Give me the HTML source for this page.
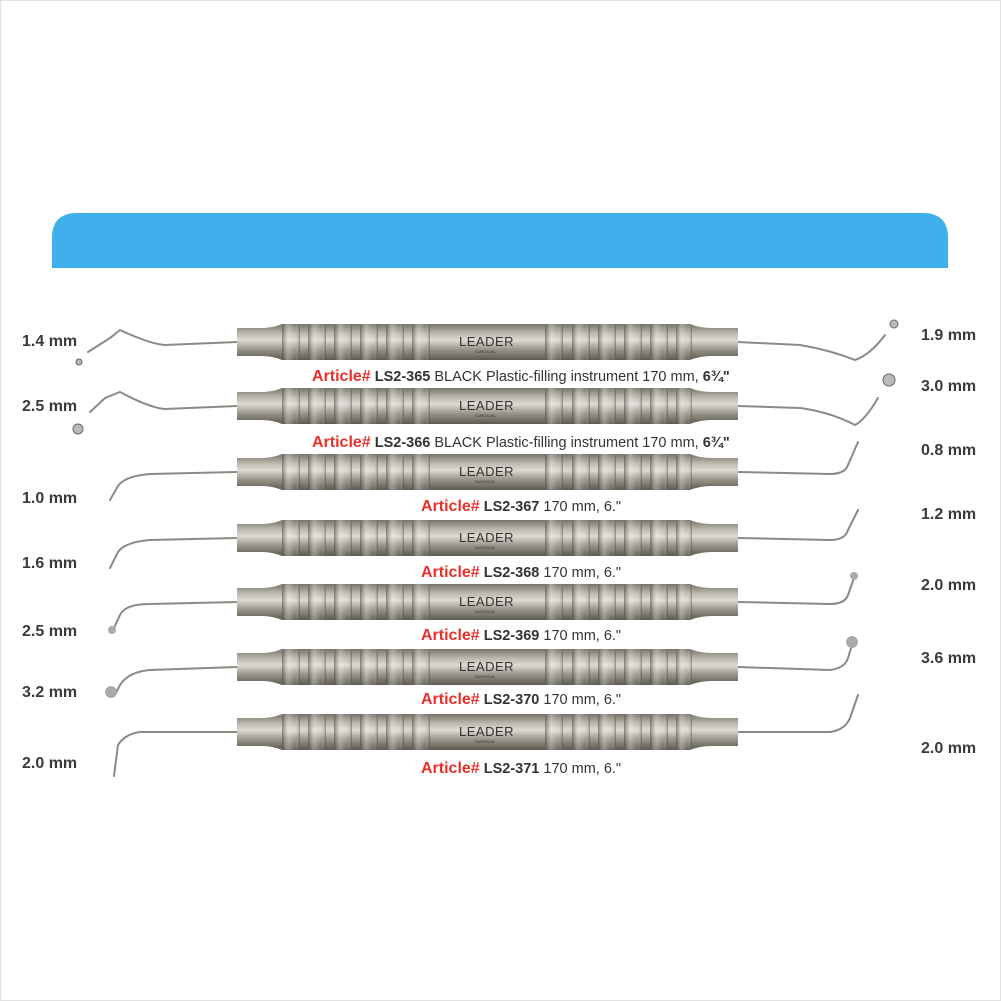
<!DOCTYPE html>
<html><head><meta charset="utf-8"><style>
html,body{margin:0;padding:0;background:#fff}
svg{display:block}
text{font-family:"Liberation Sans",sans-serif}
</style></head><body>
<svg width="1001" height="1001" viewBox="0 0 1001 1001" xmlns="http://www.w3.org/2000/svg">
<defs>
<linearGradient id="m" x1="0" y1="0" x2="0" y2="1">
<stop offset="0" stop-color="#77736a"/><stop offset="0.25" stop-color="#b9b6ab"/><stop offset="0.45" stop-color="#dcdad2"/><stop offset="0.7" stop-color="#9a968a"/><stop offset="1" stop-color="#5d5a52"/>
</linearGradient>
<linearGradient id="g" x1="0" y1="0" x2="1" y2="0">
<stop offset="0" stop-color="#3e3b34" stop-opacity="0.55"/><stop offset="0.35" stop-color="#fff" stop-opacity="0.3"/><stop offset="0.75" stop-color="#fff" stop-opacity="0.05"/><stop offset="1" stop-color="#3e3b34" stop-opacity="0.5"/>
</linearGradient>
<g id="h">
<path d="M237,-14 L262,-14 Q272,-14 282,-18 L690,-18 Q700,-14 712,-14 L738,-14 L738,14 L712,14 Q700,14 690,18 L282,18 Q272,14 262,14 L237,14 Z" fill="url(#m)"/>
<g fill="url(#g)">
<rect x="282" y="-18" width="18" height="36" rx="4"/><rect x="308" y="-18" width="18" height="36" rx="4"/><rect x="334" y="-18" width="18" height="36" rx="4"/><rect x="360" y="-18" width="18" height="36" rx="4"/><rect x="386" y="-18" width="18" height="36" rx="4"/><rect x="412" y="-18" width="18" height="36" rx="4"/>
<rect x="545" y="-18" width="18" height="36" rx="4"/><rect x="572" y="-18" width="18" height="36" rx="4"/><rect x="598" y="-18" width="18" height="36" rx="4"/><rect x="624" y="-18" width="18" height="36" rx="4"/><rect x="650" y="-18" width="18" height="36" rx="4"/><rect x="676" y="-18" width="16" height="36" rx="4"/>
</g>
<text x="459" y="4" font-size="13" fill="#333" letter-spacing="0.5">LEADER</text>
<text x="475" y="11" font-size="4" fill="#333">SURGICAL</text>
</g>
</defs>
<rect x="0.5" y="0.5" width="1000" height="1000" fill="#fff" stroke="#e2e2e2"/>
<path d="M52,268 L52,238 Q52,213 77,213 L923,213 Q948,213 948,238 L948,268 Z" fill="#3fb0ec"/>

<g stroke="#8a8a86" fill="none" stroke-width="2" stroke-linecap="round">
<path d="M237,342 L165,345 Q150,344 120,330 L110,338 L88,352"/>
<path d="M738,342 L800,345 Q830,350 855,360 Q870,355 885,335"/>
<path d="M237,406 L165,409 Q150,408 120,392 L105,398 L90,412"/>
<path d="M738,406 L800,408 Q830,412 855,425 Q865,420 878,398"/>
<path d="M237,472 L150,474 Q125,476 118,486 L110,500"/>
<path d="M738,472 L830,474 Q845,474 848,465 L858,442"/>
<path d="M237,538 L150,540 Q125,542 118,552 L110,568"/>
<path d="M738,538 L830,540 Q845,540 848,530 L858,510"/>
<path d="M237,602 L150,604 Q125,604 120,615 L112,632"/>
<path d="M738,602 L830,604 Q845,604 848,595 L854,578"/>
<path d="M237,667 L150,670 Q128,672 120,685 L115,695"/>
<path d="M738,667 L830,670 Q845,668 848,658 L852,645"/>
<path d="M237,732 L140,732 Q125,734 118,745 L114,776"/>
<path d="M738,732 L830,732 Q845,730 850,718 L858,695"/>
</g>
<g fill="#bbb" stroke="#666">
<circle cx="79" cy="362" r="3"/><circle cx="894" cy="324" r="4"/>
<circle cx="78" cy="429" r="5"/><circle cx="889" cy="380" r="6"/>
</g>
<g fill="#aaa"><circle cx="111" cy="692" r="6"/><circle cx="852" cy="642" r="6"/><circle cx="112" cy="630" r="4"/><circle cx="854" cy="576" r="4"/></g>

<use href="#h" y="342"/><use href="#h" y="406"/><use href="#h" y="472"/><use href="#h" y="538"/><use href="#h" y="602"/><use href="#h" y="667"/><use href="#h" y="732"/>

<g font-size="16" font-weight="bold" fill="#3a3a3a">
<text x="22" y="346">1.4 mm</text><text x="22" y="411">2.5 mm</text><text x="22" y="503">1.0 mm</text><text x="22" y="568">1.6 mm</text><text x="22" y="636">2.5 mm</text><text x="22" y="697">3.2 mm</text><text x="22" y="768">2.0 mm</text>
<text x="921" y="340">1.9 mm</text><text x="921" y="391">3.0 mm</text><text x="921" y="455">0.8 mm</text><text x="921" y="519">1.2 mm</text><text x="921" y="590">2.0 mm</text><text x="921" y="663">3.6 mm</text><text x="921" y="753">2.0 mm</text>
</g>
<g font-size="14.5" fill="#333">
<text x="312" y="381"><tspan fill="#e8302a" font-weight="bold" font-size="16">Article#</tspan> <tspan font-weight="bold">LS2-365</tspan> BLACK Plastic-filling instrument 170 mm, <tspan font-weight="bold">6¾"</tspan></text>
<text x="312" y="447"><tspan fill="#e8302a" font-weight="bold" font-size="16">Article#</tspan> <tspan font-weight="bold">LS2-366</tspan> BLACK Plastic-filling instrument 170 mm, <tspan font-weight="bold">6¾"</tspan></text>
<text x="421" y="511"><tspan fill="#e8302a" font-weight="bold" font-size="16">Article#</tspan> <tspan font-weight="bold">LS2-367</tspan> 170 mm, 6."</text>
<text x="421" y="577"><tspan fill="#e8302a" font-weight="bold" font-size="16">Article#</tspan> <tspan font-weight="bold">LS2-368</tspan> 170 mm, 6."</text>
<text x="421" y="640"><tspan fill="#e8302a" font-weight="bold" font-size="16">Article#</tspan> <tspan font-weight="bold">LS2-369</tspan> 170 mm, 6."</text>
<text x="421" y="704"><tspan fill="#e8302a" font-weight="bold" font-size="16">Article#</tspan> <tspan font-weight="bold">LS2-370</tspan> 170 mm, 6."</text>
<text x="421" y="773"><tspan fill="#e8302a" font-weight="bold" font-size="16">Article#</tspan> <tspan font-weight="bold">LS2-371</tspan> 170 mm, 6."</text>
</g>
</svg>
</body></html>
